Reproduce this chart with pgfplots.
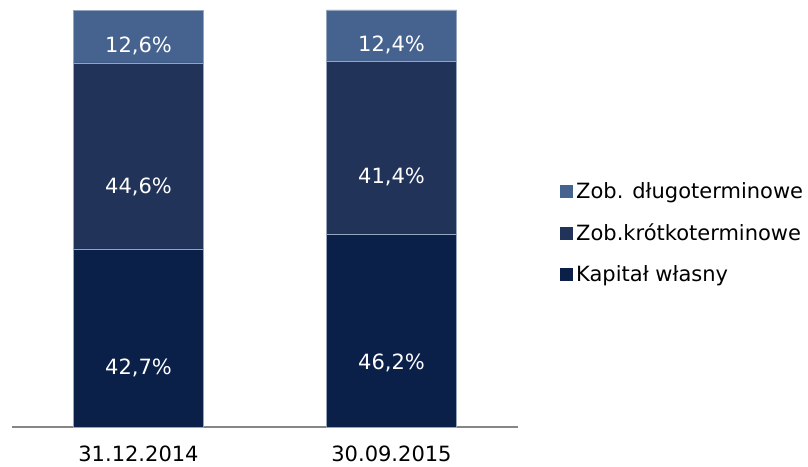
\documentclass[border=0pt]{standalone}
\usepackage{pgfplots}
\usepackage{pgfplotstable}
\pgfplotsset{compat=1.18}
\usepackage{fontspec}
\setmainfont{DejaVu Sans}

\definecolor{cdlug}{RGB}{70,99,143}
\definecolor{ckrot}{RGB}{34,51,90}
\definecolor{ckap}{RGB}{11,32,72}
\definecolor{axgray}{RGB}{134,134,134}
\definecolor{edge}{RGB}{150,165,190}

\pgfplotstableread{
x kap krot dlug
0 42.7 44.6 12.6
1 46.2 41.4 12.4
}\struktura

\begin{document}
\begin{tikzpicture}
\begin{axis}[
    scale only axis,
    width=506pt, height=417pt,
    ybar stacked, bar width=130pt,
    xmin=-0.5, xmax=1.5, ymin=0, ymax=100,
    axis x line=bottom, axis y line=none,
    x axis line style={draw=axgray, line width=1.5pt, -},
    xtick=data, xticklabels={31.12.2014,30.09.2015},
    major tick length=0pt,
    xticklabel style={font=\fontsize{21}{25}\selectfont, yshift=-15pt},
    ytick=\empty,
    point meta=explicit,
    nodes near coords={\pgfmathprintnumber[fixed,fixed zerofill,precision=1,use comma,assume math mode=true]{\pgfplotspointmeta}\%},
    % the shift ends up applied three times, hence 1/6 for half a segment
    every node near coord/.append style={font=\fontsize{21}{25}\selectfont, text=white, anchor=center,
        yshift={-0.1667*\rawy*4.17pt}},
    reverse legend,
    legend cell align=left,
    legend image code/.code={\fill[#1,draw=none] (0pt,-6.5pt) rectangle (13pt,6.5pt);},
    legend style={draw=none, fill=none, at={(axis description cs:1.083,0.465)}, anchor=west,
        inner sep=0pt, row sep=23.5pt, font=\fontsize{21}{25}\selectfont,
        nodes={inner sep=0pt, inner xsep=3pt}},
]
\addplot[fill=ckap, draw=edge, line width=0.5pt, visualization depends on={\thisrow{kap}\as\rawy}]
    table[x=x, y=kap, meta=kap] {\struktura};
\addplot[fill=ckrot, draw=edge, line width=0.5pt, visualization depends on={\thisrow{krot}\as\rawy}]
    table[x=x, y=krot, meta=krot] {\struktura};
\addplot[fill=cdlug, draw=edge, line width=0.5pt, visualization depends on={\thisrow{dlug}\as\rawy}]
    table[x=x, y=dlug, meta=dlug] {\struktura};
\legend{Kapitał własny, Zob.krótkoterminowe, Zob. długoterminowe}
\coordinate (o) at (rel axis cs:0,0);
\end{axis}
\pgfresetboundingbox
\path ([shift={(-12pt,-39pt)}]o) rectangle ([shift={(796pt,427pt)}]o);
\end{tikzpicture}
\end{document}
